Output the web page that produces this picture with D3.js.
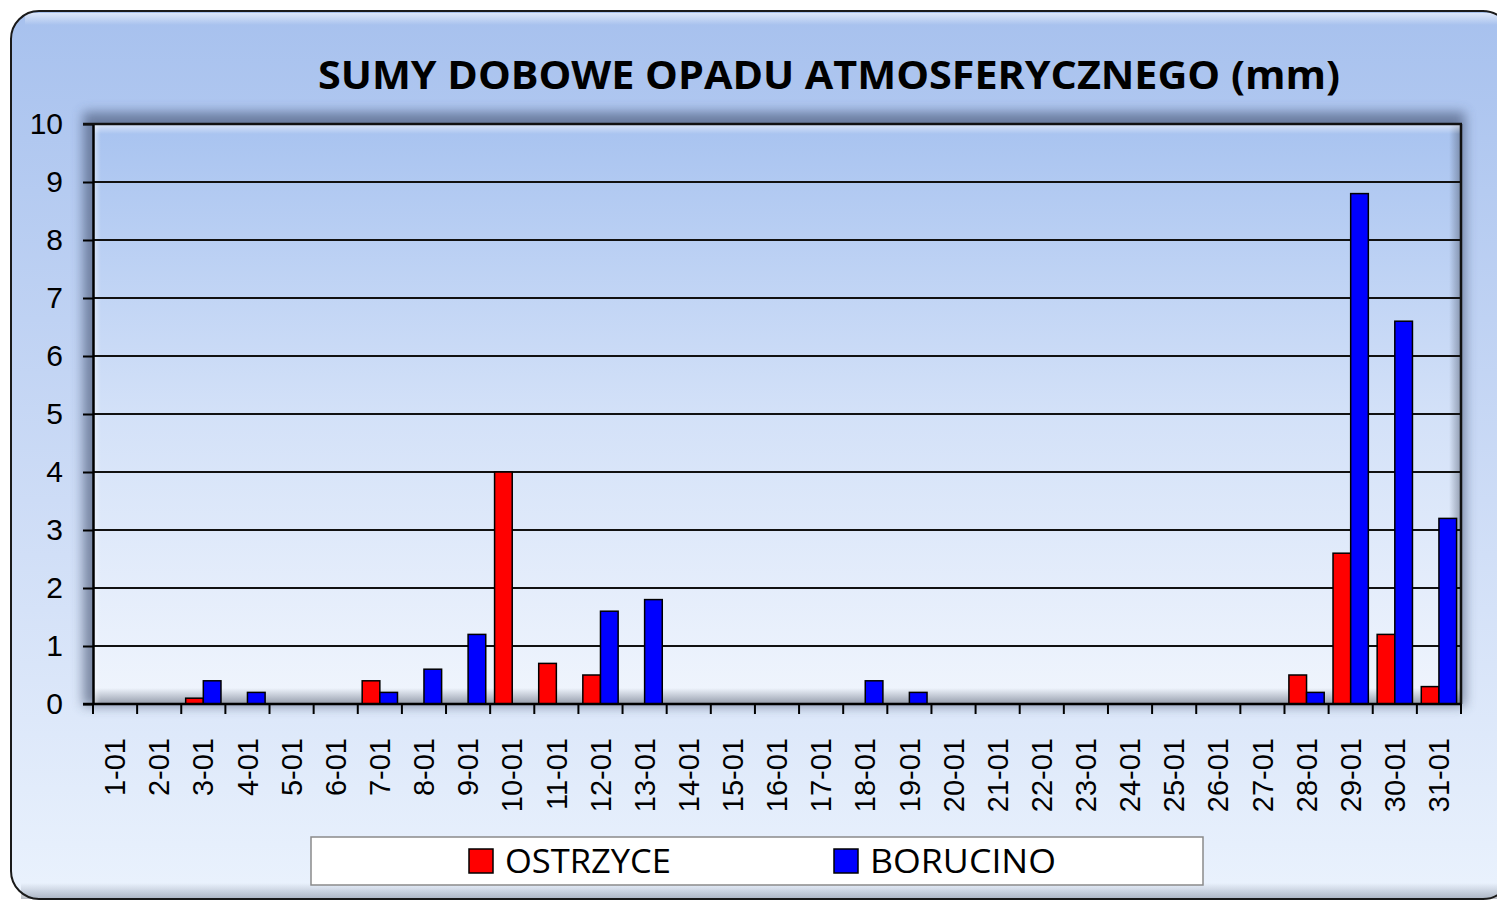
<!DOCTYPE html>
<html>
<head>
<meta charset="utf-8">
<script src="https://cdn.jsdelivr.net/npm/d3@7"></script>
<style>
  body { margin: 0; background: #fff; }
  svg { display: block; }
</style>
</head>
<body>
<div id="chart"></div>
<script>
// data
const days = ["1-01","2-01","3-01","4-01","5-01","6-01","7-01","8-01","9-01","10-01",
  "11-01","12-01","13-01","14-01","15-01","16-01","17-01","18-01","19-01","20-01",
  "21-01","22-01","23-01","24-01","25-01","26-01","27-01","28-01","29-01","30-01","31-01"];
const ostrzyce = [0,0,0.1,0,0,0,0.4,0,0,4.0,0.7,0.5,0,0,0,0,0,0,0,0,0,0,0,0,0,0,0,0.5,2.6,1.2,0.3];
const borucino = [0,0,0.4,0.2,0,0,0.2,0.6,1.2,0,0,1.6,1.8,0,0,0,0,0.4,0.2,0,0,0,0,0,0,0,0,0.2,8.8,6.6,3.2];
const seriesNames = ["OSTRZYCE", "BORUCINO"];
const seriesColors = ["#ff0000", "#0000ff"];
const yTicks = [0,1,2,3,4,5,6,7,8,9,10];

const W = 1497, H = 902;
const plot = { left: 93, top: 124, right: 1461, bottom: 704 };

const svg = d3.select("#chart").append("svg")
  .attr("width", W).attr("height", H);

const defs = svg.append("defs");

// gradients
const grad = (id, stops, vertical = true) => {
  const g = defs.append("linearGradient").attr("id", id)
    .attr("x1", 0).attr("y1", 0)
    .attr("x2", vertical ? 0 : 1).attr("y2", vertical ? 1 : 0);
  stops.forEach(s => g.append("stop").attr("offset", s[0])
    .attr("stop-color", s[1]).attr("stop-opacity", s[2] == null ? 1 : s[2]));
};
grad("panelBg", [[0, "#a7c1ee"], [0.55, "#cddcf6"], [1, "#eaf2fd"]]);
grad("plotBg", [[0, "#a8c3f0"], [0.5, "#d3e1f8"], [1, "#f0f5fd"]]);
grad("shadeDown", [[0, "#4a5468", 0], [1, "#4a5468", 0.55]]);
grad("shadeUp", [[0, "#ffffff", 0.6], [1, "#ffffff", 0]]);
grad("shadeRight", [[0, "#4a5468", 0], [1, "#4a5468", 0.5]], false);
grad("shadeLeft", [[0, "#ffffff", 0.5], [1, "#ffffff", 0]], false);

defs.append("filter").attr("id", "blur")
  .attr("x", -0.1).attr("y", -0.1).attr("width", 1.2).attr("height", 1.2)
  .append("feGaussianBlur").attr("stdDeviation", 6);

// outer panel
const panel = { x: 11, y: 11, w: 1500, h: 888, r: 28 };
svg.append("rect")
  .attr("x", panel.x).attr("y", panel.y)
  .attr("width", panel.w).attr("height", panel.h)
  .attr("rx", panel.r)
  .attr("fill", "url(#panelBg)");
// bevel of panel
svg.append("rect")
  .attr("x", panel.x + 10).attr("y", panel.y + panel.h - 16)
  .attr("width", panel.w - 20).attr("height", 16)
  .attr("fill", "url(#shadeDown)").attr("opacity", 0.7);
svg.append("rect")
  .attr("x", panel.x + 14).attr("y", panel.y + 2)
  .attr("width", panel.w - 28).attr("height", 12)
  .attr("fill", "url(#shadeUp)");
svg.append("rect")
  .attr("x", panel.x).attr("y", panel.y)
  .attr("width", panel.w).attr("height", panel.h)
  .attr("rx", panel.r)
  .attr("fill", "none").attr("stroke", "#1a1a1a").attr("stroke-width", 2);

// title
svg.append("text")
  .attr("x", 829).attr("y", 89)
  .attr("text-anchor", "middle")
  .attr("font-family", "'Open Sans', sans-serif")
  .attr("font-weight", "bold")
  .attr("font-size", 40)
  .attr("textLength", 1022)
  .attr("lengthAdjust", "spacingAndGlyphs")
  .attr("fill", "#000")
  .text("SUMY DOBOWE OPADU ATMOSFERYCZNEGO (mm)");

// plot shadow
svg.append("rect")
  .attr("x", plot.left - 10).attr("y", plot.top - 12)
  .attr("width", plot.right - plot.left + 14).attr("height", plot.bottom - plot.top + 14)
  .attr("fill", "#3c4b6a").attr("opacity", 0.6)
  .attr("filter", "url(#blur)");

// plot background
svg.append("rect")
  .attr("x", plot.left).attr("y", plot.top)
  .attr("width", plot.right - plot.left).attr("height", plot.bottom - plot.top)
  .attr("fill", "url(#plotBg)");
// inner bevel
svg.append("rect")
  .attr("x", plot.left).attr("y", plot.bottom - 16)
  .attr("width", plot.right - plot.left).attr("height", 16)
  .attr("fill", "url(#shadeDown)");
svg.append("rect")
  .attr("x", plot.right - 12).attr("y", plot.top)
  .attr("width", 12).attr("height", plot.bottom - plot.top)
  .attr("fill", "url(#shadeRight)");
svg.append("rect")
  .attr("x", plot.left).attr("y", plot.top)
  .attr("width", plot.right - plot.left).attr("height", 10)
  .attr("fill", "url(#shadeUp)");
svg.append("rect")
  .attr("x", plot.left).attr("y", plot.top)
  .attr("width", 8).attr("height", plot.bottom - plot.top)
  .attr("fill", "url(#shadeLeft)");

// scales
const x = d3.scaleBand().domain(days).range([plot.left, plot.right]);
const x1 = d3.scaleBand().domain(seriesNames).range([0, x.bandwidth()]).paddingOuter(0.25);
const y = d3.scaleLinear().domain([0, 10]).range([plot.bottom, plot.top]);

// gridlines
svg.append("g")
  .selectAll("line").data(yTicks.filter(t => t > 0)).join("line")
  .attr("x1", plot.left).attr("x2", plot.right)
  .attr("y1", d => y(d)).attr("y2", d => y(d))
  .attr("stroke", "#111").attr("stroke-width", 2);

// right border
svg.append("line")
  .attr("x1", plot.right).attr("x2", plot.right)
  .attr("y1", plot.top).attr("y2", plot.bottom)
  .attr("stroke", "#111").attr("stroke-width", 2.5);

// bars
const rows = days.map((d, i) => ({ day: d, values: [ostrzyce[i], borucino[i]] }));
svg.append("g")
  .selectAll("g").data(rows).join("g")
  .attr("transform", d => `translate(${x(d.day)},0)`)
  .selectAll("rect")
  .data(d => d.values.map((v, k) => ({ name: seriesNames[k], v, k })).filter(e => e.v > 0))
  .join("rect")
  .attr("x", d => x1(d.name))
  .attr("width", x1.bandwidth())
  .attr("y", d => y(d.v))
  .attr("height", d => y(0) - y(d.v))
  .attr("fill", d => seriesColors[d.k])
  .attr("stroke", "#000").attr("stroke-width", 1.5);

// y axis
const yAxis = svg.append("g")
  .attr("transform", `translate(${plot.left},0)`)
  .call(d3.axisLeft(y).tickValues(yTicks).tickSize(10).tickSizeOuter(0).tickPadding(20));
yAxis.select(".domain").attr("stroke", "#000").attr("stroke-width", 2.5);
yAxis.selectAll(".tick line").attr("stroke", "#000").attr("stroke-width", 2);
yAxis.selectAll("text")
  .attr("font-family", "'Liberation Sans', Arial, sans-serif")
  .attr("font-size", 30).attr("fill", "#000");

// x axis: ticks at category boundaries
const xAxis = svg.append("g").attr("transform", `translate(0,${plot.bottom})`);
xAxis.append("line")
  .attr("x1", plot.left - 10).attr("x2", plot.right)
  .attr("stroke", "#000").attr("stroke-width", 2.5);
xAxis.selectAll("line.tk").data(days.concat(["end"])).join("line")
  .attr("class", "tk")
  .attr("x1", (d, i) => i < days.length ? x(d) : plot.right)
  .attr("x2", (d, i) => i < days.length ? x(d) : plot.right)
  .attr("y1", 0).attr("y2", 10)
  .attr("stroke", "#000").attr("stroke-width", 2);
xAxis.selectAll("text").data(days).join("text")
  .attr("transform", d => `translate(${x(d) + x.bandwidth() / 2},34) rotate(-90)`)
  .attr("text-anchor", "end")
  .attr("dy", "0.35em")
  .attr("font-family", "'Liberation Sans', Arial, sans-serif")
  .attr("font-size", 29)
  .attr("fill", "#000")
  .text(d => d);

// top border
svg.append("line")
  .attr("x1", plot.left - 10).attr("x2", plot.right + 1)
  .attr("y1", plot.top).attr("y2", plot.top)
  .attr("stroke", "#111").attr("stroke-width", 2.5);

// legend
const legend = svg.append("g");
legend.append("rect")
  .attr("x", 311).attr("y", 837).attr("width", 892).attr("height", 48)
  .attr("fill", "#fff").attr("stroke", "#8a8a8a").attr("stroke-width", 1.5);
const legX = [469, 834];
const legItems = legend.selectAll("g").data(seriesNames).join("g")
  .attr("transform", (d, i) => `translate(${legX[i]},849)`);
legItems.append("rect")
  .attr("width", 24).attr("height", 24)
  .attr("fill", (d, i) => seriesColors[i])
  .attr("stroke", "#000").attr("stroke-width", 1.5);
legItems.append("text")
  .attr("x", 36).attr("y", 24)
  .attr("font-family", "'Open Sans', sans-serif")
  .attr("font-size", 32)
  .attr("textLength", (d, i) => i === 0 ? 166 : 186)
  .attr("lengthAdjust", "spacingAndGlyphs")
  .attr("fill", "#000")
  .text(d => d);
</script>
</body>
</html>
